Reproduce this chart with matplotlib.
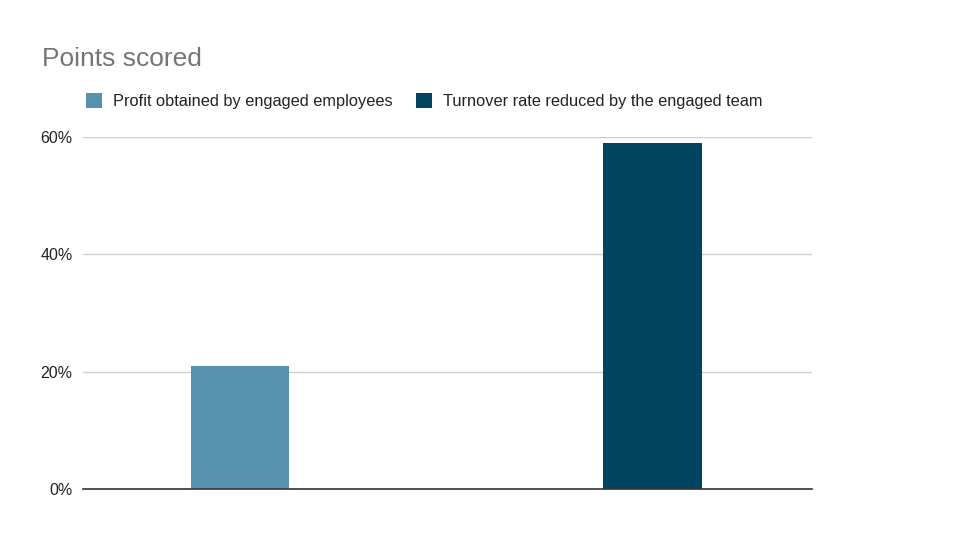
import matplotlib
matplotlib.use("Agg")
import matplotlib.pyplot as plt
from matplotlib.patches import Patch

categories = ["Profit obtained by engaged employees", "Turnover rate reduced by the engaged team"]
values = [21, 59]
colors = ["#5891AD", "#00445F"]
yticks = [0, 20, 40, 60]
ytick_labels = ["0%", "20%", "40%", "60%"]

plt.rcParams['font.family'] = ['Liberation Sans', 'DejaVu Sans']
fig = plt.figure(figsize=(9.6, 5.4), dpi=100)
ax = fig.add_axes([83/960, 51/540, (812-83)/960, (489-137)/540])

x = list(range(len(values)))
ax.bar(x, values, width=0.24, color=colors, zorder=3)
ax.set_xlim(-0.381, 1.388)
ax.set_ylim(0, 60)
ax.set_yticks(yticks)
ax.set_yticklabels(ytick_labels, fontsize=11.5, color="#222222")
ax.set_xticks([])
ax.grid(axis='y', color="#D0D0D0", linewidth=1, zorder=0)
for s in ["top", "right", "left"]:
    ax.spines[s].set_visible(False)
ax.spines["bottom"].set_color("#333333")
ax.spines["bottom"].set_linewidth(1.2)
ax.spines["bottom"].set_zorder(4)
ax.tick_params(axis='y', length=0, pad=7.5)

fig.text(42/960, 1 - 59/540, "Points scored", fontsize=19, color="#757575", va="center", ha="left")

handles = [Patch(facecolor=c, edgecolor='none') for c in colors]
leg = fig.legend(handles, categories, loc="center left", bbox_to_anchor=(79/960, 1 - 101/540),
                 ncol=2, frameon=False, fontsize=11.8, handlelength=1.0, handleheight=1.0,
                 handletextpad=0.65, columnspacing=1.45, borderaxespad=0)
for t in leg.get_texts():
    t.set_color("#222222")

fig.savefig("out.png", dpi=100)
